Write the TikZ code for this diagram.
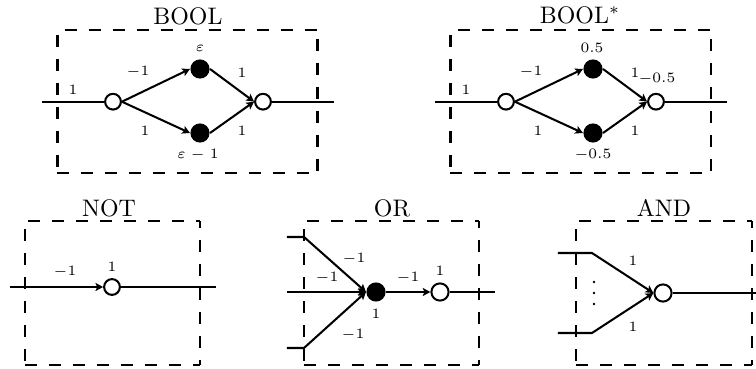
\documentclass[tikz,border=0pt]{standalone}
\usetikzlibrary{arrows.meta}
\tikzset{
  boxd/.style={line width=0.85pt},
  wire/.style={draw,line width=0.85pt},
  arr/.style={wire,-{Stealth[length=3.2pt,width=3.4pt,inset=0.7pt]}},
  wn/.style={circle,draw,line width=0.85pt,fill=white,inner sep=0pt,minimum size=6.6pt},
  wnb/.style={wn,minimum size=7.2pt},
  bn/.style={circle,fill=black,inner sep=0pt,minimum size=8pt},
  ttl/.style={inner sep=0pt,font=\normalsize},
  lab/.style={inner sep=0pt,font=\footnotesize},
  pt/.style={inner sep=0pt,minimum size=0pt}
}
\newcommand{\dside}[3]{\draw[boxd,dash pattern=on 5.02pt off 5.02pt,dash phase={(24-#3)*0.4184pt}] #1 -- #2;}
\newcommand{\gatebox}[8]{%
  \dside{(#1,#3)}{(#2,#3)}{#5}%
  \dside{(#1,#3)}{(#1,#4)}{#6}%
  \dside{(#2,#3)}{(#2,#4)}{#7}%
  \dside{(#1,#4)}{(#2,#4)}{#8}}
\newcommand{\lb}[1]{$\scriptstyle #1$}
\begin{document}
\begin{tikzpicture}[x=0.4184pt,y=-0.4184pt]
\useasboundingbox (0,0) rectangle (756,369);
% BOOL
\gatebox{57.5}{317.5}{30}{173}{7.5}{5}{9}{0}
\node[ttl] (t1) at (188,16) {BOOL};
\coordinate (a0) at (42,101.7);
\coordinate (a5) at (334,101.7);
\node[wn] (a1) at (113,101.7) {};
\node[bn] (a2) at (200,69) {};
\node[bn] (a3) at (200,133) {};
\node[wn] (a4) at (263,101.7) {};
\draw[wire] (a0) -- (a1);
\draw[arr] (a1.east) -- (a2.west);
\draw[arr] (a1.east) -- (a3.west);
\draw[arr] (a2.east) -- (a4.west);
\draw[arr] (a3.east) -- (a4.west);
\draw[wire] (a4) -- (a5);
\node[lab] (l1) at (73,90) {\lb{1}};
\node[lab] (l2) at (138,72) {\lb{-1}};
\node[lab] (l3) at (145,131) {\lb{1}};
\node[lab] (l4) at (242,73) {\lb{1}};
\node[lab] (l5) at (242,131) {\lb{1}};
\node[lab] (l6) at (200,48) {\lb{\varepsilon}};
\node[lab] (l7) at (198,155) {\lb{\varepsilon\;-\;1}};
% BOOL*
\gatebox{450.5}{711}{30}{173}{7.5}{5}{9}{0}
\node[ttl] (t2) at (580,15) {BOOL$^*$};
\coordinate (b0) at (435,101.7);
\coordinate (b5) at (727,101.7);
\node[wn] (b1) at (506,101.7) {};
\node[bn] (b2) at (593,69) {};
\node[bn] (b3) at (593,133) {};
\node[wn] (b4) at (656,101.7) {};
\draw[wire] (b0) -- (b1);
\draw[arr] (b1.east) -- (b2.west);
\draw[arr] (b1.east) -- (b3.west);
\draw[arr] (b2.east) -- (b4.west);
\draw[arr] (b3.east) -- (b4.west);
\draw[wire] (b4) -- (b5);
\node[lab] (m1) at (466,90) {\lb{1}};
\node[lab] (m2) at (531,72) {\lb{-1}};
\node[lab] (m3) at (538,131) {\lb{1}};
\node[lab] (m4) at (635,73) {\lb{1}};
\node[lab] (m5) at (635,131) {\lb{1}};
\node[lab] (m6) at (592,48) {\lb{0.5}};
\node[lab] (m7) at (593,155) {\lb{-0.5}};
\node[lab] (m8) at (657,79) {\lb{-0.5}};
% NOT
\gatebox{25}{200}{221}{365}{3.5}{8}{19}{0}
\node[ttl] (t3) at (109,208) {NOT};
\coordinate (c0) at (10,287);
\coordinate (c2) at (216,287);
\node[wn] (c1) at (112,287) {};
\draw[arr] (c0) -- (c1.west);
\draw[wire] (c1) -- (c2);
\node[lab] (n1) at (65,272) {\lb{-1}};
\node[lab] (n2) at (112,267) {\lb{1}};
% OR
\gatebox{304}{479}{221}{365}{3.5}{8}{19}{0}
\node[ttl] (t4) at (392,208) {OR};
\coordinate (d0) at (287,237);
\coordinate (d1) at (304,237);
\coordinate (d2) at (287,292);
\coordinate (d3) at (287,348);
\coordinate (d4) at (304,348);
\coordinate (d7) at (495,292);
\node[bn] (d5) at (376,292) {};
\node[wnb] (d6) at (440,292) {};
\draw[arr] (d0) -- (d1) -- (d5.west);
\draw[arr] (d2) -- (d5.west);
\draw[arr] (d3) -- (d4) -- (d5.west);
\draw[arr] (d5.east) -- (d6.west);
\draw[wire] (d6) -- (d7);
\node[lab] (o1) at (354,259) {\lb{-1}};
\node[lab] (o2) at (327,278) {\lb{-1}};
\node[lab] (o3) at (353,335) {\lb{-1}};
\node[lab] (o4) at (376,314) {\lb{1}};
\node[lab] (o5) at (408,278) {\lb{-1}};
\node[lab] (o6) at (440,271) {\lb{1}};
% AND
\gatebox{576}{752}{221}{365}{3.5}{8}{19}{0}
\node[ttl] (t5) at (664,208) {AND};
\coordinate (e0) at (558,253);
\coordinate (e1) at (592,253);
\coordinate (e2) at (558,333);
\coordinate (e3) at (592,333);
\coordinate (e5) at (756,293);
\node[wnb] (e4) at (663,293) {};
\draw[arr] (e0) -- (e1) -- (e4.west);
\draw[arr] (e2) -- (e3) -- (e4.west);
\draw[wire] (e4) -- (e5);
\node[lab] (p1) at (633,261) {\lb{1}};
\node[lab] (p2) at (633,327) {\lb{1}};
\node[pt] (q1) at (594,282) {};
\node[pt] (q2) at (594,293) {};
\node[pt] (q3) at (594,304) {};
\fill (q1) circle (1.3) (q2) circle (1.3) (q3) circle (1.3);
\end{tikzpicture}
\end{document}
